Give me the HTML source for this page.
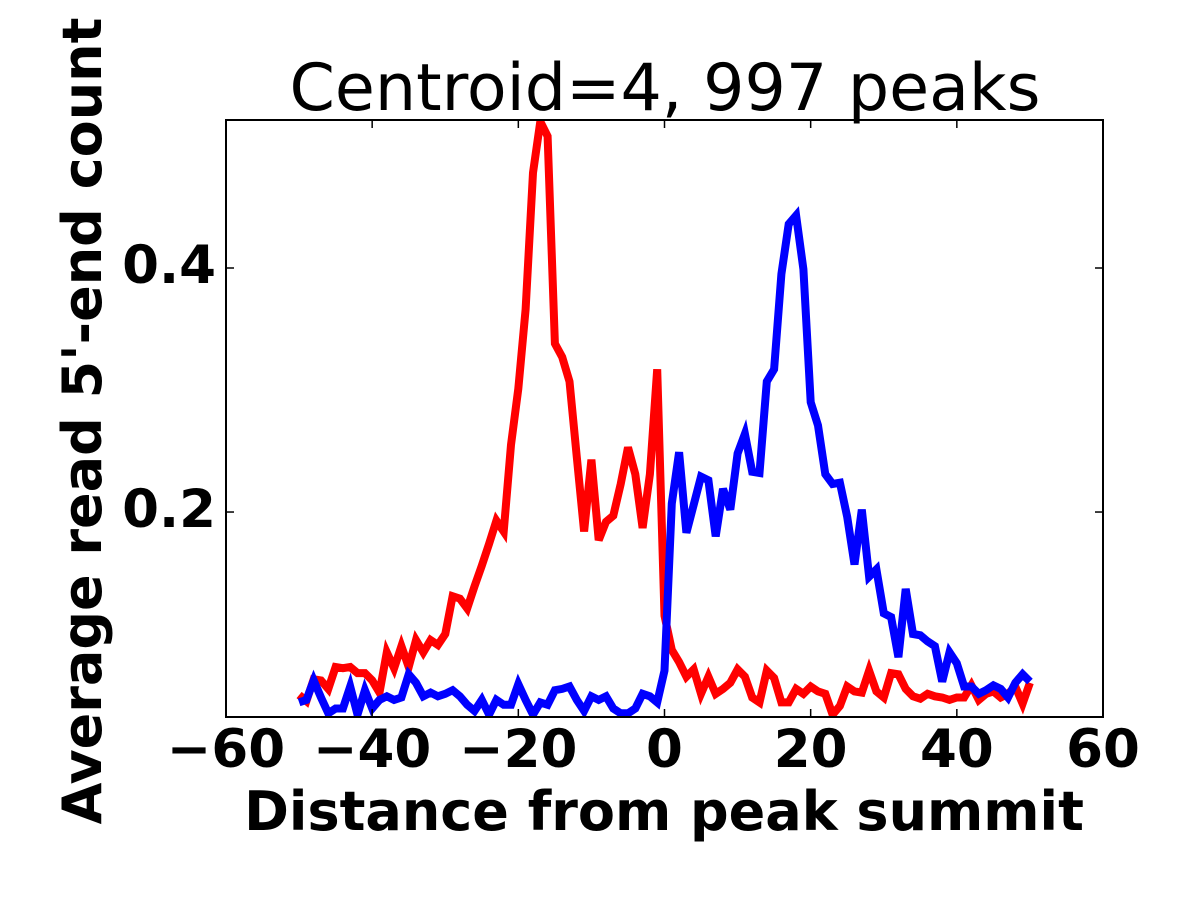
<!DOCTYPE html>
<html><head><meta charset="utf-8"><style>
html,body{margin:0;padding:0;background:#fff;}
svg{display:block;font-family:"DejaVu Sans","Liberation Sans",sans-serif;}
</style></head><body>
<svg id="chart" width="1200" height="900" viewBox="0 0 1200 900" xmlns="http://www.w3.org/2000/svg">
<text x="665" y="110" font-size="65" text-anchor="middle">Centroid=4, 997 peaks</text>
<g id="plot"></g>
<text x="664" y="830" font-size="54" font-weight="bold" text-anchor="middle">Distance from peak summit</text>
<text transform="translate(101,421) rotate(-90)" font-size="54" font-weight="bold" text-anchor="middle">Average read 5'-end count</text>
</svg>
<script>
const xTicks = [-60, -40, -20, 0, 20, 40, 60];
const yTicks = [0.2, 0.4];
const yTickLabels = ["0.2", "0.4"];
const xStart = -50;
const redValues = [0.050,0.045,0.063,0.062,0.055,0.073,0.072,0.073,0.068,0.068,0.062,0.052,0.085,0.072,0.090,0.073,0.095,0.085,0.095,0.091,0.100,0.131,0.129,0.121,0.139,0.156,0.174,0.193,0.184,0.255,0.301,0.366,0.478,0.520,0.508,0.338,0.327,0.307,0.245,0.184,0.243,0.177,0.192,0.197,0.223,0.253,0.231,0.187,0.231,0.317,
0.115,0.087,0.077,0.065,0.071,0.051,0.065,0.051,0.055,0.060,0.071,0.065,0.048,0.044,0.070,0.064,0.044,0.044,0.055,0.051,0.057,0.053,0.051,0.034,0.041,0.057,0.053,0.052,0.070,0.053,0.048,0.068,0.067,0.055,0.049,0.047,0.051,0.049,0.048,0.046,0.048,0.048,0.058,0.046,0.051,0.053,0.048,0.051,0.057,0.043,0.060];
const blueValues = [0.044,0.046,0.062,0.048,0.035,0.039,0.039,0.057,0.034,0.054,0.039,0.046,0.049,0.046,0.048,0.067,0.060,0.049,0.052,0.049,0.051,0.054,0.049,0.042,0.037,0.046,0.034,0.046,0.042,0.042,0.059,0.046,0.034,0.044,0.042,0.054,0.055,0.057,0.046,0.037,0.049,0.046,0.049,0.039,0.035,0.035,0.039,0.051,0.049,0.044,
0.070,0.207,0.249,0.183,0.206,0.229,0.226,0.180,0.219,0.202,0.248,0.264,0.233,0.232,0.307,0.317,0.395,0.436,0.443,0.399,0.290,0.271,0.231,0.223,0.224,0.196,0.157,0.202,0.147,0.153,0.117,0.114,0.081,0.137,0.100,0.099,0.094,0.090,0.061,0.085,0.076,0.057,0.057,0.051,0.054,0.058,0.055,0.048,0.060,0.067,0.061];

const L=226,R=1103,T=120,B=717;
const xMin=-60,xMax=60,yMin=0.0320,yMax=0.5213;
const xs=v=>L+(v-xMin)/(xMax-xMin)*(R-L);
const ys=v=>B-(v-yMin)/(yMax-yMin)*(B-T);
const NS="http://www.w3.org/2000/svg";
const g=document.getElementById('plot');
function mk(tag,attrs){const e=document.createElementNS(NS,tag);for(const k in attrs)e.setAttribute(k,attrs[k]);g.appendChild(e);return e;}

const defs=mk('clipPath',{id:'clip'});
const cr=document.createElementNS(NS,'rect');cr.setAttribute('x',L);cr.setAttribute('y',T);cr.setAttribute('width',R-L);cr.setAttribute('height',B-T);defs.appendChild(cr);

function series(vals,color,name){
  const pts=vals.map((v,i)=>xs(xStart+i).toFixed(1)+','+ys(v).toFixed(1)).join(' ');
  const p=mk('polyline',{points:pts,fill:'none',stroke:color,'stroke-width':8,'stroke-linejoin':'miter','clip-path':'url(#clip)'});
  
  
}
series(redValues,'#ff0000','red-series-line');
series(blueValues,'#0000ff','blue-series-line');

const frame=mk('rect',{x:L,y:T,width:R-L,height:B-T,fill:'none',stroke:'#000','stroke-width':2});



xTicks.forEach(t=>{
  const x=xs(t);
  mk('line',{x1:x,x2:x,y1:B,y2:B-8,stroke:'#000','stroke-width':1.5});
  mk('line',{x1:x,x2:x,y1:T,y2:T+8,stroke:'#000','stroke-width':1.5});
  const lb=mk('text',{x:x,y:767,'font-size':53,'font-weight':'bold','text-anchor':'middle'});
  lb.textContent=(t<0?'\u2212'+(-t):String(t));
  
  
});
yTicks.forEach((t,i)=>{
  const y=ys(t);
  mk('line',{x1:L,x2:L+8,y1:y,y2:y,stroke:'#000','stroke-width':1.5});
  mk('line',{x1:R,x2:R-8,y1:y,y2:y,stroke:'#000','stroke-width':1.5});
  const lb=mk('text',{x:216,y:y+15,'font-size':53,'font-weight':'bold','text-anchor':'end'});
  lb.textContent=yTickLabels[i];
  
  
});
</script>
</body></html>
